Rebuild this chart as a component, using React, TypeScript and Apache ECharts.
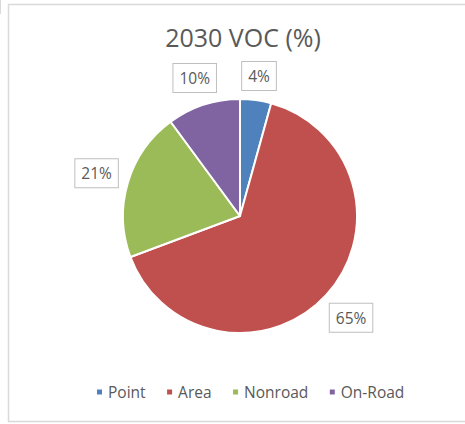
import React, { useEffect, useRef } from "react";
import * as echarts from "echarts";

const categories = ["Point", "Area", "Nonroad", "On-Road"];
const values = [4.3, 65.0, 20.6, 10.1];
const colors = ["#4f81bd", "#c0504d", "#9bbb59", "#8064a2"];
const titleText = "2030 VOC (%)";

export default function App() {
  const ref = useRef<HTMLDivElement>(null);
  useEffect(() => {
    if (!ref.current) return;
    const chart = echarts.init(ref.current, undefined, { renderer: "svg" });
    const font = "'Open Sans', 'Noto Sans', sans-serif";
    const cx = 240;
    const cy = 216;
    const R = 117;
    const total = values.reduce((a, b) => a + b, 0);
    const mids: number[] = [];
    let acc = 0;
    values.forEach((v) => {
      mids.push(((acc + v / 2) / total) * Math.PI * 2);
      acc += v;
    });
    chart.setOption({
      animation: false,
      backgroundColor: "#ffffff",
      color: colors,
      title: {
        text: titleText,
        left: 238,
        textAlign: "center",
        top: 19,
        textStyle: { fontFamily: font, fontSize: 25, fontWeight: "normal", color: "#595959" },
      },
      legend: {
        bottom: 19,
        left: 90,
        icon: "rect",
        itemWidth: 7,
        itemHeight: 7,
        itemGap: 19.5,
        textStyle: { fontFamily: font, fontSize: 15.5, color: "#595959" },
        data: categories,
      },
      graphic: [
        {
          type: "rect",
          shape: { x: 8.5, y: 4.5, width: 470, height: 417 },
          style: { fill: "none", stroke: "#d9d9d9", lineWidth: 1.5 },
          silent: true,
        },
        {
          type: "line",
          shape: { x1: 0.5, y1: 0, x2: 0.5, y2: 14 },
          style: { stroke: "#d9d9d9", lineWidth: 1 },
          silent: true,
        },
      ],
      series: [
        {
          type: "pie",
          center: [cx, cy],
          radius: [0, R],
          startAngle: 90,
          clockwise: true,
          itemStyle: { borderColor: "#ffffff", borderWidth: 2 },
          label: {
            show: true,
            position: "outside",
            formatter: (p: any) => `${Math.round(p.value)}%`,
            fontFamily: font,
            fontSize: 15.5,
            lineHeight: 18,
            color: "#595959",
            backgroundColor: "#ffffff",
            borderColor: "#bfbfbf",
            borderWidth: 1,
            padding: [5, 6, 5, 6],
          },
          labelLine: { show: false, length: 10, length2: 0 },
          labelLayout: (p: any) => {
            const a = mids[p.dataIndex];
            const dx = Math.sin(a);
            const dy = -Math.cos(a);
            const w = p.labelRect.width / 2;
            const h = p.labelRect.height / 2;
            const support = w * Math.abs(dx) + h * Math.abs(dy);
            const r = R + 7 + support;
            return {
              x: cx + dx * r,
              y: cy + dy * r,
              align: "center",
              verticalAlign: "middle",
            };
          },
          data: categories.map((c, i) => ({ name: c, value: values[i] })),
        },
      ],
    });
    return () => chart.dispose();
  }, []);
  return (
    <div
      ref={ref}
      style={{ position: "absolute", left: 0, top: 0, width: 465, height: 424 }}
    />
  );
}
